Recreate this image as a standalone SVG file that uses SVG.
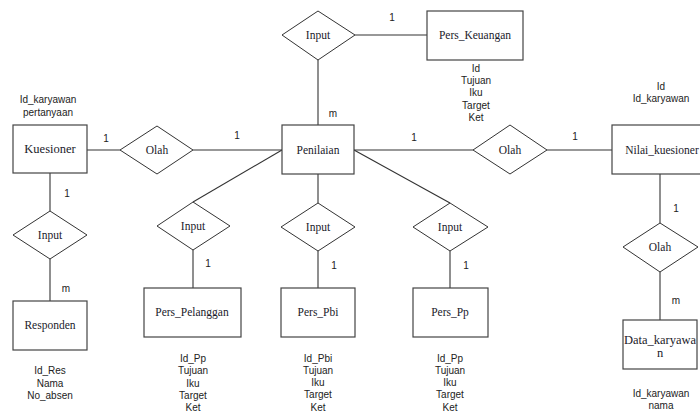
<svg xmlns="http://www.w3.org/2000/svg" width="700" height="412" viewBox="0 0 700 412">
<style>
.ent{fill:#fff;stroke:#444;stroke-width:1.2}
.rel{fill:#fff;stroke:#333;stroke-width:1}
.lbl{font-family:"Liberation Serif","Times New Roman",serif;font-size:11.5px;fill:#1a1a2a;text-anchor:middle;dominant-baseline:central}
.att{font-family:"Liberation Sans",Arial,sans-serif;font-size:10px;fill:#222;text-anchor:middle;dominant-baseline:central}
.card{font-family:"Liberation Sans",Arial,sans-serif;font-size:10px;fill:#222;text-anchor:middle;dominant-baseline:central}
#connectors line{stroke:#333;stroke-width:1.1}
</style>
<rect width="700" height="412" fill="#fff"/>
<g id="connectors">
<line x1="87" y1="150" x2="120" y2="150"/>
<line x1="193" y1="150" x2="282" y2="150"/>
<line x1="318" y1="60" x2="318" y2="125"/>
<line x1="355" y1="35" x2="427" y2="35"/>
<line x1="354" y1="150" x2="473" y2="150"/>
<line x1="547" y1="150" x2="612" y2="150"/>
<line x1="660" y1="174" x2="660" y2="223"/>
<line x1="660" y1="272" x2="660" y2="320"/>
<line x1="50" y1="173" x2="50" y2="211"/>
<line x1="50" y1="259" x2="50" y2="301"/>
<line x1="282" y1="150" x2="193" y2="202"/>
<line x1="193" y1="250" x2="193" y2="288"/>
<line x1="318" y1="174" x2="318" y2="203"/>
<line x1="318" y1="251" x2="318" y2="288"/>
<line x1="354" y1="150" x2="450" y2="203"/>
<line x1="450" y1="251" x2="450" y2="288"/>
</g>
<g id="cardinalities">
<text class="card" x="392" y="17">1</text>
<text class="card" x="333" y="113">m</text>
<text class="card" x="106" y="138">1</text>
<text class="card" x="237" y="135">1</text>
<text class="card" x="414" y="137">1</text>
<text class="card" x="575" y="136">1</text>
<text class="card" x="676" y="208">1</text>
<text class="card" x="676" y="300">m</text>
<text class="card" x="67" y="193">1</text>
<text class="card" x="66" y="288">m</text>
<text class="card" x="208" y="263">1</text>
<text class="card" x="334" y="265">1</text>
<text class="card" x="466" y="265">1</text>
</g>
<g id="kuesioner">
<rect class="ent" x="13" y="125" width="74" height="48"/>
<text class="lbl" x="50" y="149" style="font-size:12.5px">Kuesioner</text>
<text class="att" x="48" y="99">Id_karyawan</text>
<text class="att" x="48" y="112">pertanyaan</text>
</g>
<g id="olah1">
<polygon class="rel" points="120,150 157,126 193,150 157,174"/>
<text class="lbl" x="157" y="150">Olah</text>
</g>
<g id="penilaian">
<rect class="ent" x="282" y="125" width="72" height="49"/>
<text class="lbl" x="318" y="150">Penilaian</text>
</g>
<g id="input-keuangan">
<polygon class="rel" points="282,35 318,11 355,35 318,60"/>
<text class="lbl" x="318" y="35">Input</text>
</g>
<g id="pers-keuangan">
<rect class="ent" x="427" y="11" width="96" height="49"/>
<text class="lbl" x="475" y="35">Pers_Keuangan</text>
<text class="att" x="476" y="68">Id</text>
<text class="att" x="476" y="80">Tujuan</text>
<text class="att" x="476" y="92">Iku</text>
<text class="att" x="476" y="105">Target</text>
<text class="att" x="476" y="117">Ket</text>
</g>
<g id="olah2">
<polygon class="rel" points="473,150 510,125 547,150 510,174"/>
<text class="lbl" x="510" y="150">Olah</text>
</g>
<g id="nilai-kuesioner">
<rect class="ent" x="612" y="125" width="100" height="49"/>
<text class="lbl" x="662" y="150">Nilai_kuesioner</text>
<text class="att" x="661" y="86">Id</text>
<text class="att" x="661" y="98">Id_karyawan</text>
</g>
<g id="olah3">
<polygon class="rel" points="623,247 660,223 698,247 660,272"/>
<text class="lbl" x="660" y="247">Olah</text>
</g>
<g id="data-karyawan">
<rect class="ent" x="623" y="320" width="74" height="49"/>
<text class="lbl" x="660" y="340" style="font-size:12.5px">Data_karyawa</text>
<text class="lbl" x="660" y="353" style="font-size:12.5px">n</text>
<text class="att" x="661" y="393">Id_karyawan</text>
<text class="att" x="661" y="405">nama</text>
</g>
<g id="input-responden">
<polygon class="rel" points="13,235 50,211 87,235 50,259"/>
<text class="lbl" x="50" y="235">Input</text>
</g>
<g id="responden">
<rect class="ent" x="13" y="301" width="74" height="49"/>
<text class="lbl" x="50" y="325">Responden</text>
<text class="att" x="50" y="370">Id_Res</text>
<text class="att" x="50" y="383">Nama</text>
<text class="att" x="50" y="395">No_absen</text>
</g>
<g id="input-pelanggan">
<polygon class="rel" points="157,226 193,202 230,226 193,250"/>
<text class="lbl" x="193" y="226">Input</text>
</g>
<g id="pers-pelanggan">
<rect class="ent" x="144" y="288" width="97" height="49"/>
<text class="lbl" x="192" y="312">Pers_Pelanggan</text>
<text class="att" x="193" y="358">Id_Pp</text>
<text class="att" x="193" y="370">Tujuan</text>
<text class="att" x="193" y="383">Iku</text>
<text class="att" x="193" y="395">Target</text>
<text class="att" x="193" y="407">Ket</text>
</g>
<g id="input-pbi">
<polygon class="rel" points="281,227 318,203 355,227 318,251"/>
<text class="lbl" x="318" y="227">Input</text>
</g>
<g id="pers-pbi">
<rect class="ent" x="281" y="288" width="74" height="49"/>
<text class="lbl" x="318" y="312">Pers_Pbi</text>
<text class="att" x="318" y="358">Id_Pbi</text>
<text class="att" x="318" y="370">Tujuan</text>
<text class="att" x="318" y="382">Iku</text>
<text class="att" x="318" y="394">Target</text>
<text class="att" x="318" y="407">Ket</text>
</g>
<g id="input-pp">
<polygon class="rel" points="413,227 450,203 488,227 450,251"/>
<text class="lbl" x="450" y="227">Input</text>
</g>
<g id="pers-pp">
<rect class="ent" x="413" y="288" width="75" height="49"/>
<text class="lbl" x="450" y="312">Pers_Pp</text>
<text class="att" x="450" y="358">Id_Pp</text>
<text class="att" x="450" y="370">Tujuan</text>
<text class="att" x="450" y="382">Iku</text>
<text class="att" x="450" y="394">Target</text>
<text class="att" x="450" y="407">Ket</text>
</g>
</svg>
